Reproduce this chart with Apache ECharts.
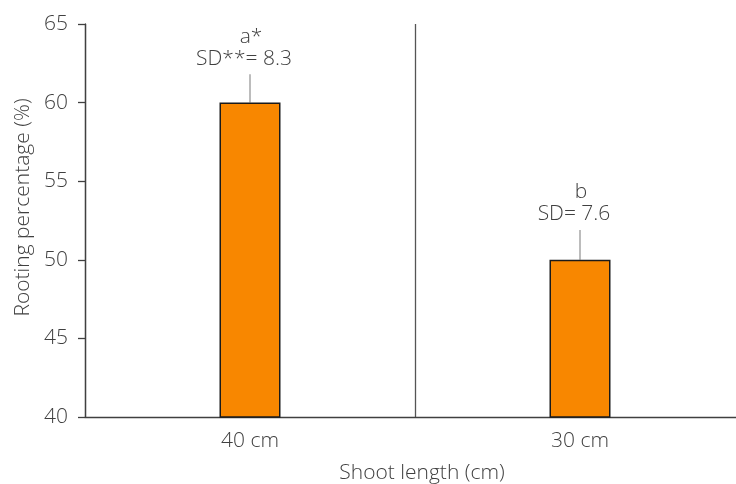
<!DOCTYPE html>
<html><head><meta charset="utf-8">
<script src="https://cdn.jsdelivr.net/npm/echarts@6/dist/echarts.min.js"></script>
<style>html,body{margin:0;padding:0;background:#fff;overflow:hidden}#c{width:736px;height:484px}</style>
</head><body><div id="c"></div>
<script>
var categories = ['40 cm', '30 cm'];
var rootingValues = [60, 50];
var errorUpper = [61.8, 51.9];
var letterLabels = ['a*', 'b'];
var sdLabels = ['SD**= 8.3', 'SD= 7.6'];
var yTicks = {min: 40, max: 65, interval: 5};

var FONT = '"Open Sans"';
var TXT = '#404040';
var FS = 21;
var chart = echarts.init(document.getElementById('c'), null, {width: 736, height: 484});
chart.setOption({
  animation: false,
  grid: {left: 85, top: 24, bottom: 67, width: 660, containLabel: false, outerBoundsMode: 'none'},
  xAxis: {
    type: 'category', data: categories,
    axisLine: {lineStyle: {color: '#404040', width: 1.3}},
    axisTick: {show: false},
    splitLine: {show: true, lineStyle: {color: '#555', width: 1.3}},
    axisLabel: {color: TXT, fontFamily: FONT, fontWeight: 300, fontSize: FS, margin: 14},
    name: 'Shoot length (cm)', nameLocation: 'middle', nameGap: 46,
    nameTextStyle: {color: TXT, fontFamily: FONT, fontWeight: 300, fontSize: FS, padding: [0, 0, 0, 14]}
  },
  yAxis: {
    type: 'value', min: yTicks.min, max: yTicks.max, interval: yTicks.interval,
    axisLine: {show: true, lineStyle: {color: '#404040', width: 1.3}},
    axisTick: {show: true, length: 7, lineStyle: {color: '#404040', width: 1.3}},
    splitLine: {show: false},
    axisLabel: {color: TXT, fontFamily: FONT, fontWeight: 300, fontSize: FS, margin: 17},
    name: 'Rooting percentage (%)', nameLocation: 'middle', nameGap: 51, nameRotate: 90,
    nameTextStyle: {color: TXT, fontFamily: FONT, fontWeight: 300, fontSize: FS, padding: [0, 0, 0, 26]}
  },
  series: [{
    type: 'bar', data: rootingValues, barWidth: 61,
    itemStyle: {color: '#F88700', borderColor: '#1a1a1a', borderWidth: 1.5}
  }, {
    type: 'custom',
    data: errorUpper.map(function (v, i) { return [i, rootingValues[i], v]; }),
    z: 1,
    renderItem: function (params, api) {
      var i = api.value(0);
      var p0 = api.coord([i, api.value(1)]);
      var p1 = api.coord([i, api.value(2)]);
      var font = '300 ' + FS + 'px ' + FONT;
      return {type: 'group', children: [
        {type: 'line', shape: {x1: p0[0], y1: p0[1], x2: p1[0], y2: p1[1]},
         style: {stroke: '#a6a6a6', lineWidth: 1.5}},
        {type: 'text', x: p1[0] - 6, y: p1[1] - 5,
         style: {text: sdLabels[i], align: 'center', verticalAlign: 'bottom', fill: TXT, font: font}},
        {type: 'text', x: p1[0] + 1, y: p1[1] - 27,
         style: {text: letterLabels[i], align: 'center', verticalAlign: 'bottom', fill: TXT, font: font}}
      ]};
    }
  }]
});
</script></body></html>
